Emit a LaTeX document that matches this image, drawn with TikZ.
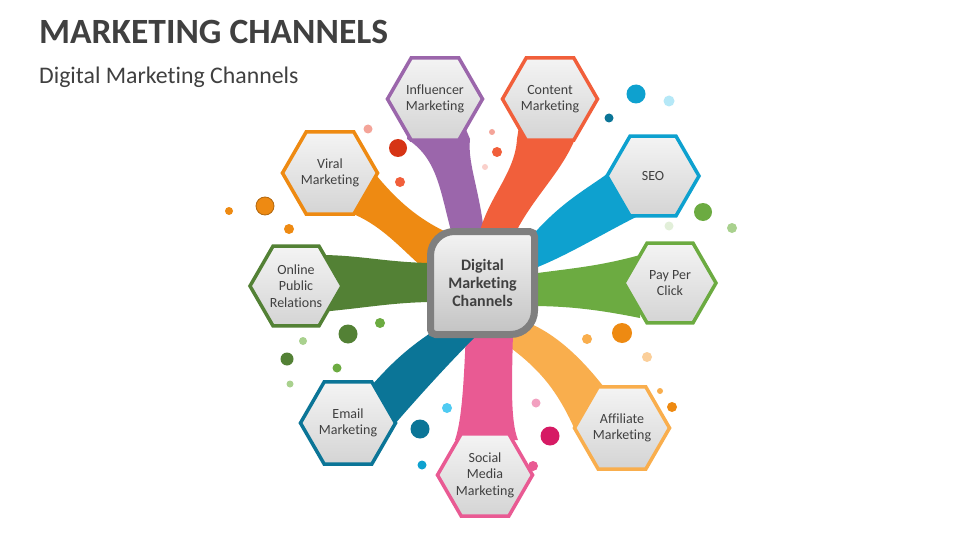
\documentclass[tikz,border=0pt]{standalone}
\usepackage{fontspec}
\setmainfont{Carlito}[Ligatures=NoCommon]
\usetikzlibrary{shapes.geometric}
\definecolor{cViral}{HTML}{EE8A12}
\definecolor{cInfl}{HTML}{9B66AB}
\definecolor{cCont}{HTML}{F15F3B}
\definecolor{cSeo}{HTML}{0EA1CF}
\definecolor{cPpc}{HTML}{6CAB41}
\definecolor{cAff}{HTML}{F9AE4D}
\definecolor{cSoc}{HTML}{E95A93}
\definecolor{cMail}{HTML}{0B7597}
\definecolor{cOpr}{HTML}{538135}
\definecolor{txt}{HTML}{404040}
\definecolor{hexTop}{HTML}{F4F4F4}
\definecolor{hexBot}{HTML}{D4D4D4}
\definecolor{boxGray}{HTML}{7F7F7F}
\definecolor{dSalmon}{HTML}{F4A499}
\definecolor{dRed}{HTML}{D63415}
\definecolor{dPaleRed}{HTML}{FAD0CB}
\definecolor{dLightBlue}{HTML}{B5E8F7}
\definecolor{dPaleGreen}{HTML}{E2EFD9}
\definecolor{dLightGreen}{HTML}{A9D18E}
\definecolor{dPeach}{HTML}{FBCF9A}
\definecolor{dSky}{HTML}{4FCBF2}
\definecolor{dPinkL}{HTML}{F2A0C0}
\definecolor{dMagenta}{HTML}{D61A64}
\begin{document}
\begin{tikzpicture}[x=1pt,y=-1pt,
  hexa/.style={regular polygon, regular polygon sides=6, minimum size=92pt,
    inner sep=0pt, line width=3.5pt, top color=hexTop, bottom color=hexBot,
    align=center, text=txt, font=\fontsize{14}{16.5}\selectfont}]
\useasboundingbox (0,0) rectangle (960,540);
\fill[white] (0,0) rectangle (960,540);

% ---------- bands ----------
\fill[cViral] (372,170) .. controls (400,205) and (425,225) .. (465,240)
  -- (445,285) .. controls (405,258) and (385,220) .. (335,208) -- cycle;
\fill[cInfl] (410,120) -- (462,120) -- (470,139) .. controls (467,165) and (482,195) .. (485,245)
  -- (455,245) .. controls (440,195) and (440,160) .. (407,139) -- cycle;
\fill[cCont] (520,120) -- (578,120) -- (575,139) .. controls (560,175) and (530,200) .. (512,240)
  -- (478,240) .. controls (485,200) and (515,175) .. (517,139) -- cycle;
\fill[cSeo] (620,170) -- (607,174) .. controls (585,190) and (560,203) .. (530,238)
  -- (530,270) .. controls (565,257) and (600,235) .. (640,215) -- cycle;
\fill[cPpc] (530,274) .. controls (575,268) and (600,266) .. (640,255)
  -- (640,318) .. controls (600,310) and (570,306) .. (530,306) -- cycle;
\fill[cAff] (515,318) .. controls (550,328) and (580,355) .. (610,395)
  -- (590,430) -- (575,430) .. controls (555,385) and (535,365) .. (500,340) -- cycle;
\fill[cSoc] (466,330) -- (513,330) .. controls (512,380) and (510,420) .. (518,440)
  -- (455,440) .. controls (462,420) and (464,380) .. (466,330) -- cycle;
\fill[cMail] (372,385) .. controls (390,365) and (405,350) .. (432,332)
  -- (480,332) .. controls (450,362) and (420,395) .. (394,425) -- cycle;
\fill[cOpr] (320,255) .. controls (360,255) and (390,263) .. (435,263)
  -- (435,302) .. controls (395,302) and (365,308) .. (320,312) -- cycle;

% ---------- dots ----------
\fill[dSalmon] (368,129) circle [radius=4.5];
\fill[dRed] (398,148) circle [radius=9];
\fill[cCont] (400,182) circle [radius=5];
\filldraw[fill=cViral, draw=cViral!75!black, line width=0.8pt] (265,206) circle [radius=9];
\fill[cViral] (229,211) circle [radius=4];
\fill[cViral] (289,229) circle [radius=5];
\fill[dSalmon] (492,132) circle [radius=3];
\fill[cCont] (497,152) circle [radius=5];
\fill[dPaleRed] (485,167) circle [radius=3];
\fill[cSeo] (636,94) circle [radius=9.5];
\fill[dLightBlue] (669,101) circle [radius=5.5];
\fill[cMail] (609,118) circle [radius=4.5];
\fill[cPpc] (703,212) circle [radius=9];
\fill[dPaleGreen] (669,226) circle [radius=4.5];
\fill[dLightGreen] (732,228) circle [radius=5];
\fill[cViral] (622,333) circle [radius=10];
\fill[cAff] (587,339) circle [radius=5];
\fill[dPeach] (647,357) circle [radius=5];
\fill[cAff] (660,391) circle [radius=3];
\fill[cViral] (672,407) circle [radius=5];
\fill[cOpr] (348,334) circle [radius=9.5];
\fill[cPpc] (380,323) circle [radius=5];
\fill[dLightGreen] (303,341) circle [radius=4];
\fill[cOpr] (287,359) circle [radius=6.5];
\fill[cPpc] (337,368) circle [radius=4.5];
\fill[dLightGreen] (290,384) circle [radius=3.5];
\fill[dSky] (447,408) circle [radius=5];
\fill[cMail] (420,429) circle [radius=9.5];
\fill[cSeo] (422,465) circle [radius=4.5];
\fill[dPinkL] (536,403) circle [radius=4.5];
\fill[dMagenta] (550,436) circle [radius=9.5];
\fill[cSoc] (533,466) circle [radius=5];

% ---------- hexagons ----------
\node[hexa, draw=cViral] (viral) at (330,173) {Viral\\Marketing};
\node[hexa, draw=cInfl] (infl) at (435,99) {Influencer\\Marketing};
\node[hexa, draw=cCont] (cont) at (550,99) {Content\\Marketing};
\node[hexa, draw=cSeo] (seo) at (653,176) {SEO};
\node[hexa, draw=cPpc] (ppc) at (670,283) {Pay Per\\Click};
\node[hexa, draw=cAff] (aff) at (622,428) {Affiliate\\Marketing};
\node[hexa, draw=cSoc] (soc) at (485,475) {Social\\Media\\Marketing};
\node[hexa, draw=cMail] (mail) at (348,423) {Email\\Marketing};
\node[hexa, draw=cOpr] (opr) at (296,286) {Online\\Public\\Relations};

% ---------- centre box ----------
\path[draw=boxGray, line width=7pt, top color=hexTop, bottom color=hexBot!92!black]
  (430.5,255.5) .. controls (430.5,242.2) and (441.2,231.5) .. (454.5,231.5)
  -- (529.5,231.5) .. controls (532.3,231.5) and (534.5,233.7) .. (534.5,236.5)
  -- (534.5,310.5) .. controls (534.5,323.8) and (523.8,334.5) .. (510.5,334.5)
  -- (435.5,334.5) .. controls (432.7,334.5) and (430.5,332.3) .. (430.5,329.5)
  -- cycle;
\node[align=center, text=txt, font=\bfseries\fontsize{16}{18.3}\selectfont] (hub) at (482.5,283) {Digital\\Marketing\\Channels};

% ---------- titles ----------
\node[anchor=base west, inner sep=0pt, text=txt, font=\bfseries\fontsize{35.5}{40}\selectfont] (title) at (39,44) {MARKETING CHANNELS};
\node[anchor=base west, inner sep=0pt, text=txt, font=\fontsize{23.8}{28}\selectfont] (subtitle) at (39,83.5) {Digital Marketing Channels};
\end{tikzpicture}
\end{document}
